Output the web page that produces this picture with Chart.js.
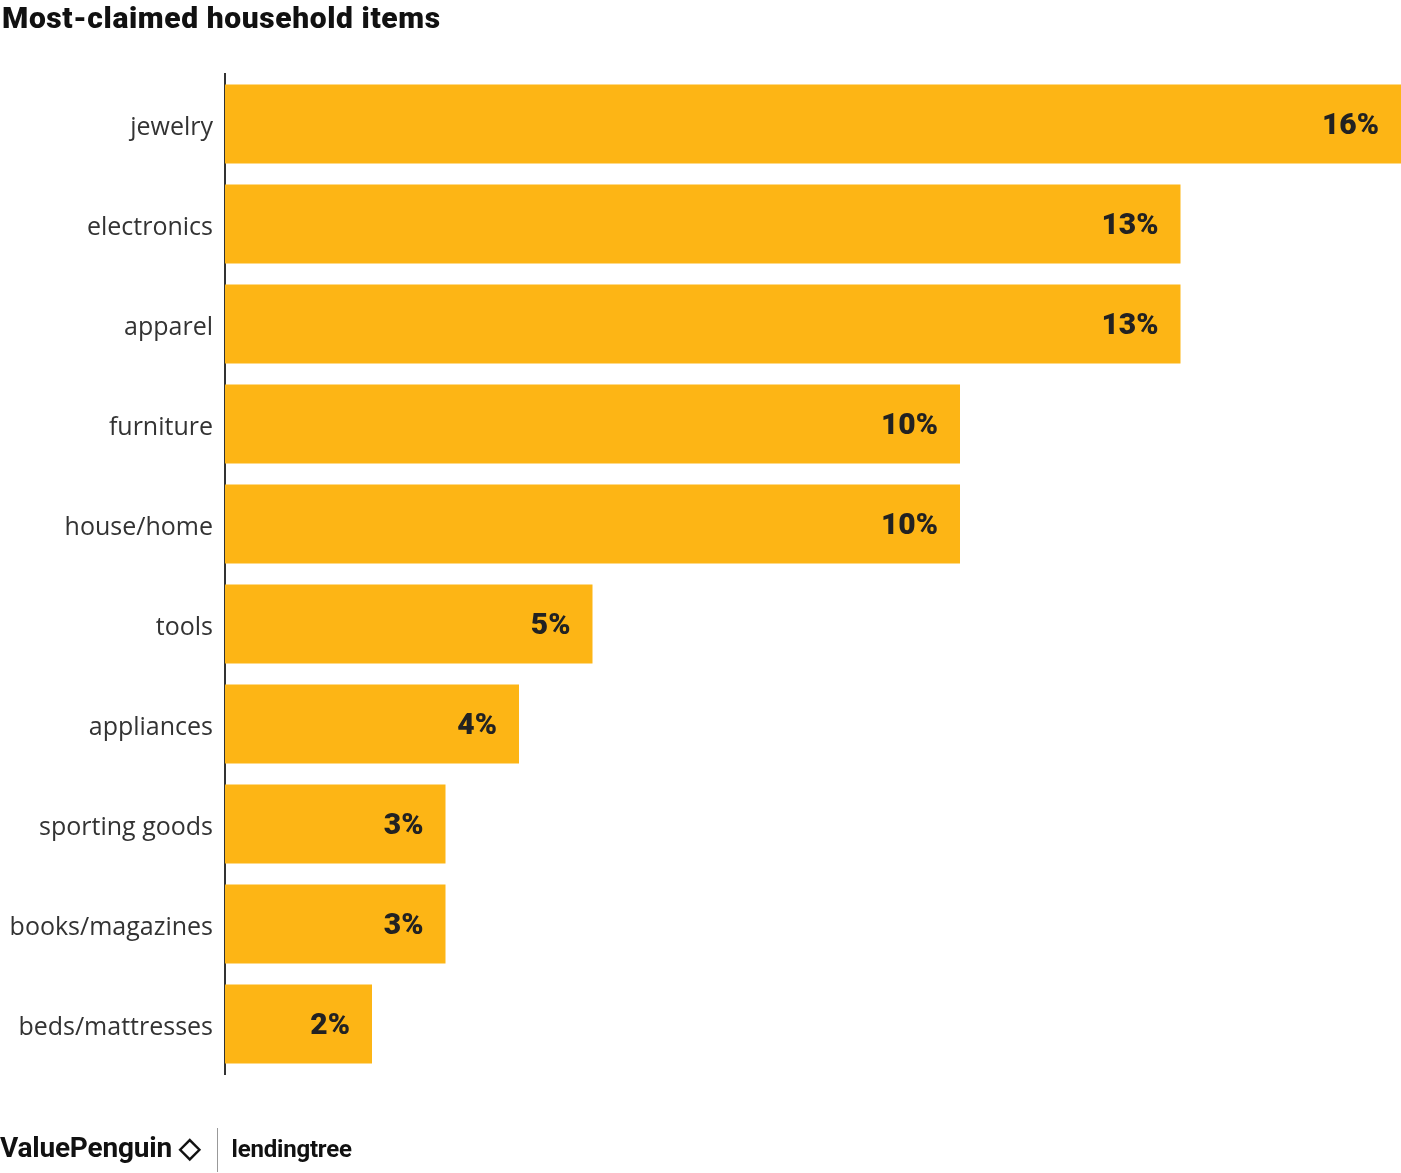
<!DOCTYPE html>
<html>
<head>
<meta charset="utf-8">
<script src="https://cdn.jsdelivr.net/npm/chart.js@4"></script>
<style>
  body { margin: 0; background: #fff; font-family: "Open Sans", sans-serif; }
  #wrap { position: relative; width: 1401px; height: 1173px; }
  #title { position: absolute; left: 2px; top: 0px; font: 900 30px "Roboto", sans-serif; color: #111; letter-spacing: 0.6px; }
  #footer { position: absolute; left: 0; top: 1128px; font: bold 28px "Roboto", sans-serif; color: #111; letter-spacing: -0.2px; }
  #footer .sep { display: inline-block; width: 1px; height: 44px; background: #999; vertical-align: middle; margin: 0 14px 0 16px; }
  #footer .lt { font-weight: bold; font-size: 24px; }
</style>
</head>
<body>
<div id="wrap">
  <div id="title">Most-claimed household items</div>
  <canvas id="chart" width="1401" height="1173"></canvas>
  <div id="footer">ValuePenguin ◇<span class="sep"></span><span class="lt">lendingtree</span></div>
</div>
<script>
// category names and share of claims (%)
const categories = ['jewelry', 'electronics', 'apparel', 'furniture', 'house/home', 'tools', 'appliances', 'sporting goods', 'books/magazines', 'beds/mattresses'];
const shares = [16, 13, 13, 10, 10, 5, 4, 3, 3, 2];

// value labels at the end of each bar
const barLabels = {
    id: 'barLabels',
    afterDatasetsDraw(chart) {
        const ctx = chart.ctx;
        const meta = chart.getDatasetMeta(0);
        ctx.save();
        ctx.font = '900 30px "Roboto", sans-serif';
        ctx.fillStyle = '#222';
        ctx.textAlign = 'right';
        ctx.textBaseline = 'middle';
        meta.data.forEach(function (bar, i) {
            ctx.fillText(shares[i] + '%', bar.x - 22, bar.y + 2);
        });
        ctx.restore();
    }
};

new Chart(document.getElementById('chart'), {
    type: 'bar',
    data: {
        labels: categories,
        datasets: [{
            data: shares,
            backgroundColor: '#fdb515',
            barPercentage: 0.79,
            categoryPercentage: 1,
        }],
    },
    options: {
        indexAxis: 'y',
        responsive: false,
        animation: false,
        layout: { padding: { top: 74, bottom: 99, left: 0, right: 0 } },
        scales: {
            x: { display: false, min: 0, max: 16 },
            y: {
                afterFit: function (scale) { scale.width = 225; },
                grid: { display: false },
                border: { display: true, color: '#333', width: 2 },
                ticks: { color: '#333', font: { size: 25, family: '"Open Sans", sans-serif' }, padding: 4, labelOffset: 4 },
            },
        },
        plugins: {
            legend: { display: false },
            tooltip: { enabled: false },
        },
    },
    plugins: [barLabels],
});
</script>
</body>
</html>
